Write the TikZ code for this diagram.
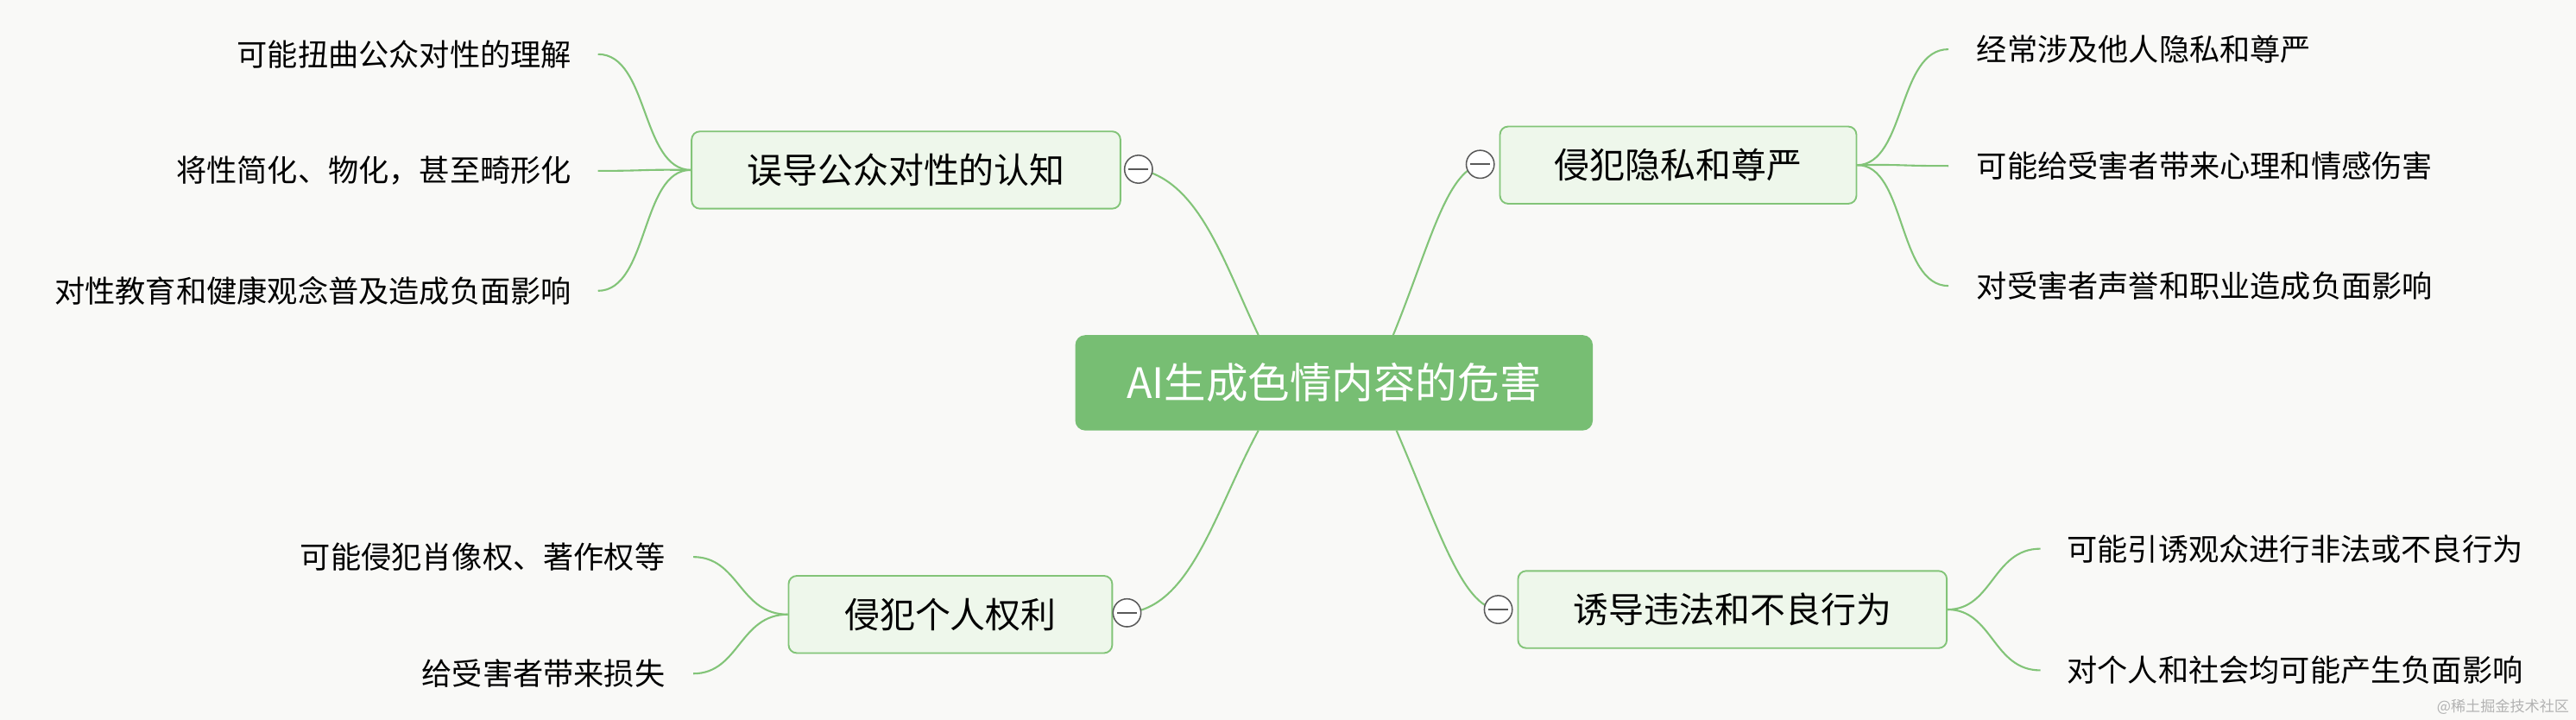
\documentclass[tikz,border=0pt]{standalone}
\usepackage{fontspec}
\setmainfont{Noto Sans CJK SC}
\definecolor{bg}{RGB}{249,249,247}
\definecolor{edgec}{RGB}{130,196,120}
\definecolor{brfill}{RGB}{238,247,235}
\definecolor{cfill}{RGB}{119,190,115}
\begin{document}
\begin{tikzpicture}[x=1pt,y=-1pt,
  edge/.style={draw=edgec, line width=1.1pt},
  branch/.style={draw=edgec, line width=1pt, fill=brfill, rounded corners=5pt, minimum height=47pt, font=\fontsize{21.5}{24}\selectfont, inner xsep=0pt},
  leafR/.style={anchor=east, font=\fontsize{18.5}{21}\selectfont, inner sep=0pt},
  leafL/.style={anchor=west, font=\fontsize{18.5}{21}\selectfont, inner sep=0pt},
  fold/.style={circle, draw=gray!70!black, fill=white, line width=0.8pt, minimum size=17pt, inner sep=0pt}]
\fill[bg] (0,0) rectangle (1568,438);
\useasboundingbox (0,0) rectangle (1568,438);
\node[fill=cfill, rounded corners=6pt, minimum width=315pt, minimum height=58pt, text=white, font=\fontsize{25.5}{28}\selectfont] (c) at (812,233) {AI生成色情内容的危害};
\node[branch, minimum width=261pt] (b1) at (551.5,103.5) {误导公众对性的认知};
\node[branch, minimum width=217pt] (b2) at (1021.5,100.5) {侵犯隐私和尊严};
\node[branch, minimum width=197pt] (b3) at (578.5,374) {侵犯个人权利};
\node[branch, minimum width=261pt] (b4) at (1054.5,371) {诱导违法和不良行为};
\coordinate (c1) at (766,204); \coordinate (c2) at (848,204);
\coordinate (c3) at (766,262); \coordinate (c4) at (850,262);
\draw[edge] (c1) .. controls (745,160) and (730,110) .. (693,103);
\draw[edge] (c2) .. controls (870,150) and (880,105) .. (901,100);
\draw[edge] (c3) .. controls (740,310) and (725,370) .. (686,373);
\draw[edge] (c4) .. controls (875,320) and (890,370) .. (912,371);
\node[fold] (f1) at (693,103) {}; \draw[gray!70!black,line width=0.9pt] (687,103) -- (699,103);
\node[fold] (f2) at (901,100) {}; \draw[gray!70!black,line width=0.9pt] (895,100) -- (907,100);
\node[fold] (f3) at (686,373) {}; \draw[gray!70!black,line width=0.9pt] (680,373) -- (692,373);
\node[fold] (f4) at (912,371) {}; \draw[gray!70!black,line width=0.9pt] (906,371) -- (918,371);
\node[leafR] (l11) at (348,33) {可能扭曲公众对性的理解};
\node[leafR] (l12) at (348,104) {将性简化、物化，甚至畸形化};
\node[leafR] (l13) at (348,177) {对性教育和健康观念普及造成负面影响};
\foreach \y in {33,104,177} \draw[edge] (b1.west) .. controls (390,103) and (395,\y) .. (364,\y);
\node[leafL] (l21) at (1203,30) {经常涉及他人隐私和尊严};
\node[leafL] (l22) at (1203,101) {可能给受害者带来心理和情感伤害};
\node[leafL] (l23) at (1203,174) {对受害者声誉和职业造成负面影响};
\foreach \y in {30,101,174} \draw[edge] (b2.east) .. controls (1160,100) and (1155,\y) .. (1186,\y);
\node[leafR] (l31) at (405,339) {可能侵犯肖像权、著作权等};
\node[leafR] (l32) at (405,410) {给受害者带来损失};
\foreach \y in {339,410} \draw[edge] (b3.west) .. controls (450,374) and (450,\y) .. (422,\y);
\node[leafL] (l41) at (1258,334) {可能引诱观众进行非法或不良行为};
\node[leafL] (l42) at (1258,408) {对个人和社会均可能产生负面影响};
\foreach \y in {334,408} \draw[edge] (b4.east) .. controls (1213,371) and (1213,\y) .. (1242,\y);
\node[anchor=south east, font=\fontsize{9}{10}\selectfont, text=gray!60, inner sep=2pt] (wm) at (1566,437) {@稀土掘金技术社区};
\end{tikzpicture}
\end{document}
